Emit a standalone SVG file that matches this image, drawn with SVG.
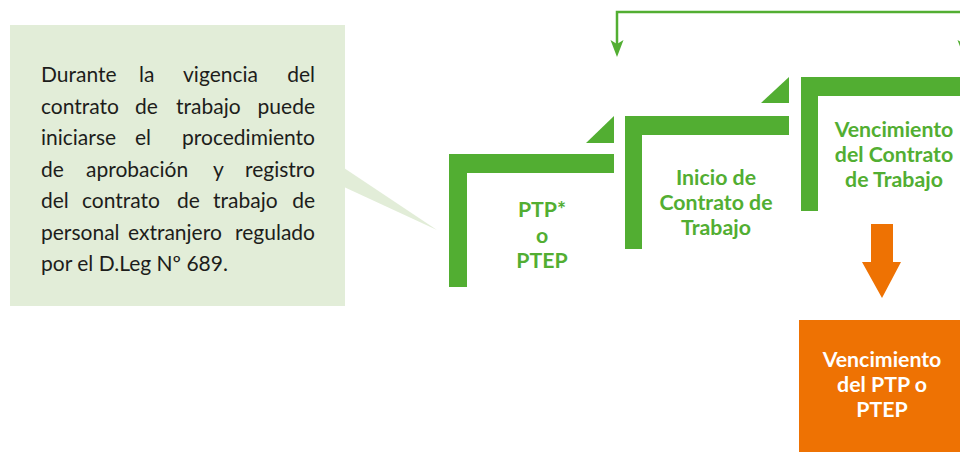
<svg xmlns="http://www.w3.org/2000/svg" width="960" height="452" viewBox="0 0 960 452">
  <defs>
    <style>
      .green { fill: #52AE32; }
      .orange { fill: #EE7203; }
      .callout { fill: #E2EDD8; }
      .lbl { font-family: Lato, "Liberation Sans", sans-serif; font-weight: 700; font-size: 21.3px; text-anchor: middle; fill: #52AE32; }
      .lblw { font-family: Lato, "Liberation Sans", sans-serif; font-weight: 700; font-size: 21.3px; text-anchor: middle; fill: #FFFFFF; }
      .body { font-family: Lato, "Liberation Sans", sans-serif; font-size: 21px; fill: #1D1D1B; }
      .conn { fill: none; stroke: #52AE32; stroke-width: 2.5; }
    </style>
    <marker id="arr" markerUnits="userSpaceOnUse" orient="auto-start-reverse" refX="4" refY="0" markerWidth="20" markerHeight="14" overflow="visible">
      <path d="M0,-6.5 L17,0 L0,6.5 L4,0 Z" fill="#52AE32"/>
    </marker>
  </defs>

  <g id="callout">
    <rect class="callout" x="10" y="25" width="335" height="281"/>
    <polygon class="callout" points="344,168 437,230 344,187"/>
    <text class="body">
      <tspan x="41" y="82">Durante</tspan><tspan x="139" y="82">la</tspan><tspan x="183" y="82">vigencia</tspan><tspan x="315" y="82" text-anchor="end">del</tspan>
    </text>
    <text class="body">
      <tspan x="41" y="114">contrato</tspan><tspan x="135" y="114">de</tspan><tspan x="176" y="114">trabajo</tspan><tspan x="315" y="114" text-anchor="end">puede</tspan>
    </text>
    <text class="body">
      <tspan x="41" y="145">iniciarse</tspan><tspan x="135" y="145">el</tspan><tspan x="315" y="145" text-anchor="end">procedimiento</tspan>
    </text>
    <text class="body">
      <tspan x="41" y="177">de</tspan><tspan x="86" y="177">aprobación</tspan><tspan x="213" y="177">y</tspan><tspan x="315" y="177" text-anchor="end">registro</tspan>
    </text>
    <text class="body">
      <tspan x="41" y="208">del</tspan><tspan x="82" y="208">contrato</tspan><tspan x="177" y="208">de</tspan><tspan x="213" y="208">trabajo</tspan><tspan x="315" y="208" text-anchor="end">de</tspan>
    </text>
    <text class="body">
      <tspan x="41" y="240">personal</tspan><tspan x="128" y="240">extranjero</tspan><tspan x="315" y="240" text-anchor="end">regulado</tspan>
    </text>
    <text class="body" x="41" y="271">por el D.Leg Nº 689.</text>
  </g>

  <g id="connectors">
    <path class="conn" d="M617,44 V12 H964 V44" marker-start="url(#arr)" marker-end="url(#arr)"/>
  </g>

  <g id="ptp">
    <polygon class="green" points="449,154 614,154 614,173 467,173 467,287 449,287"/>
    <polygon class="green" points="586,143 614,116 614,143"/>
    <text class="lbl" x="542" y="217">PTP*</text>
    <text class="lbl" x="542" y="243">o</text>
    <text class="lbl" x="542" y="268">PTEP</text>
  </g>

  <g id="inicio">
    <polygon class="green" points="625,116 789,116 789,135 642,135 642,249 625,249"/>
    <polygon class="green" points="761,103 789,77 789,103"/>
    <text class="lbl" x="716" y="185">Inicio de</text>
    <text class="lbl" x="716" y="210">Contrato de</text>
    <text class="lbl" x="716" y="235">Trabajo</text>
  </g>

  <g id="vencimiento-contrato">
    <polygon class="green" points="801,77 960,77 960,96 818,96 818,211 801,211"/>
    <text class="lbl" x="894" y="137">Vencimiento</text>
    <text class="lbl" x="894" y="162">del Contrato</text>
    <text class="lbl" x="894" y="187">de Trabajo</text>
  </g>

  <g id="flecha">
    <polygon class="orange" points="871,224 893,224 893,262 901,262 882,298 862,262 871,262"/>
  </g>

  <g id="vencimiento-ptp">
    <rect class="orange" x="799" y="320" width="161" height="132"/>
    <text class="lblw" x="882" y="367">Vencimiento</text>
    <text class="lblw" x="882" y="392">del PTP o</text>
    <text class="lblw" x="882" y="417">PTEP</text>
  </g>
</svg>
